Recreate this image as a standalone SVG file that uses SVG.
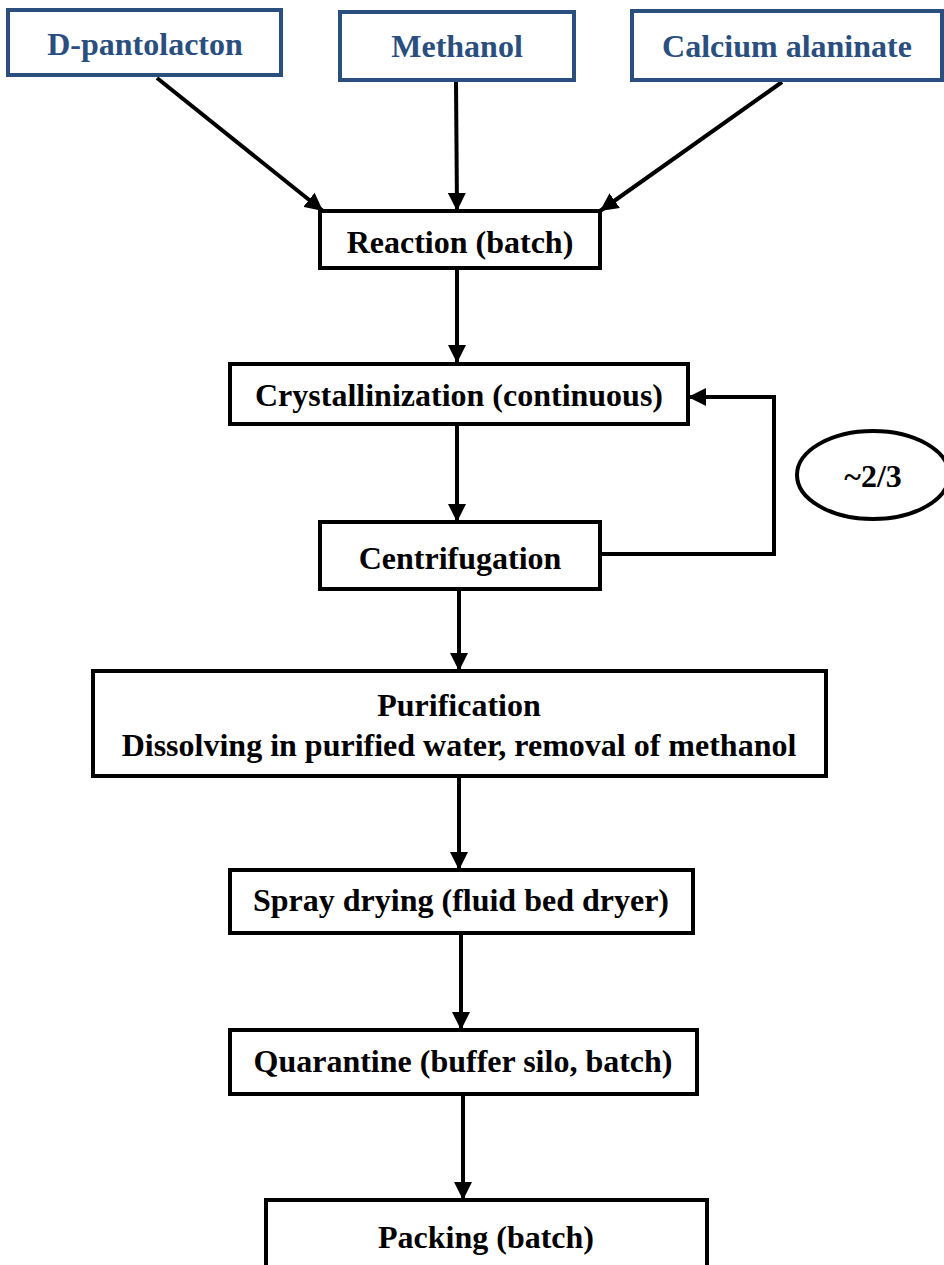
<svg xmlns="http://www.w3.org/2000/svg" width="944" height="1265" viewBox="0 0 944 1265">
<defs>
<style>
.b{fill:#fff;stroke:#000;stroke-width:4}
.s{fill:#fff;stroke:#2a4f7f;stroke-width:4}
.t{font-family:"Liberation Serif","Times New Roman",serif;font-weight:bold;font-size:32px;fill:#000;text-anchor:middle}
.tb{font-family:"Liberation Serif","Times New Roman",serif;font-weight:bold;font-size:32px;fill:#2a4f7f;text-anchor:middle}
.c{fill:none;stroke:#000;stroke-width:4}
</style>
<marker id="ah" viewBox="0 0 10 10" refX="10" refY="5" markerWidth="4.5" markerHeight="4.5" markerUnits="strokeWidth" orient="auto">
<path d="M0,0 L10,5 L0,10 z" fill="#000"/>
</marker>
</defs>
<rect width="944" height="1265" fill="#fff"/>
<g id="connectors">
<line class="c" x1="157" y1="78" x2="323" y2="211" marker-end="url(#ah)"/>
<line class="c" x1="456" y1="82" x2="457" y2="211" marker-end="url(#ah)"/>
<line class="c" x1="782" y1="82" x2="600" y2="211" marker-end="url(#ah)"/>
<line class="c" x1="457" y1="268" x2="457" y2="363" marker-end="url(#ah)"/>
<line class="c" x1="457" y1="424" x2="457" y2="522" marker-end="url(#ah)"/>
<polyline class="c" points="600,554 774,554 774,397 688,397" marker-end="url(#ah)"/>
<line class="c" x1="459" y1="589" x2="459" y2="671" marker-end="url(#ah)"/>
<line class="c" x1="459" y1="776" x2="459" y2="870" marker-end="url(#ah)"/>
<line class="c" x1="461" y1="933" x2="461" y2="1030" marker-end="url(#ah)"/>
<line class="c" x1="463" y1="1094" x2="463" y2="1200" marker-end="url(#ah)"/>
</g>
<g id="n-dpanto"><rect class="s" x="8" y="10" width="273" height="65"/><text class="tb" x="145" y="55">D-pantolacton</text></g>
<g id="n-methanol"><rect class="s" x="340" y="12" width="234" height="68"/><text class="tb" x="457" y="57">Methanol</text></g>
<g id="n-calcium"><rect class="s" x="632" y="11" width="310" height="69"/><text class="tb" x="787" y="57">Calcium alaninate</text></g>
<g id="n-reaction"><rect class="b" x="320" y="211" width="280" height="57"/><text class="t" x="460" y="253">Reaction (batch)</text></g>
<g id="n-cryst"><rect class="b" x="230" y="364" width="458" height="60"/><text class="t" x="459" y="406">Crystallinization (continuous)</text></g>
<g id="n-centrif"><rect class="b" x="320" y="522" width="280" height="67"/><text class="t" x="460" y="569">Centrifugation</text></g>
<g id="n-ratio"><ellipse cx="873" cy="475" rx="76" ry="44" fill="#fff" stroke="#000" stroke-width="4"/><text class="t" x="873" y="487">~2/3</text></g>
<g id="n-purif"><rect class="b" x="93" y="671" width="733" height="105"/><text class="t" x="459" y="716">Purification</text><text class="t" x="459" y="756">Dissolving in purified water, removal of methanol</text></g>
<g id="n-spray"><rect class="b" x="230" y="870" width="463" height="63"/><text class="t" x="461" y="911">Spray drying (fluid bed dryer)</text></g>
<g id="n-quar"><rect class="b" x="230" y="1030" width="467" height="64"/><text class="t" x="463" y="1072">Quarantine (buffer silo, batch)</text></g>
<g id="n-pack"><rect class="b" x="266" y="1200" width="441" height="70"/><text class="t" x="486" y="1248">Packing (batch)</text></g>
</svg>
